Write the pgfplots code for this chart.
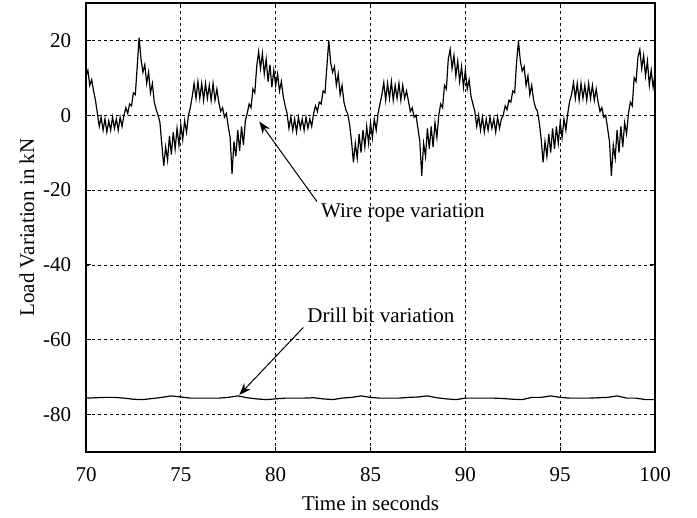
\documentclass[border=0pt]{standalone}
\usepackage{fontspec}
\setmainfont{Liberation Serif}
\usepackage{pgfplots}
\pgfplotsset{compat=1.18}
\usetikzlibrary{arrows.meta}

% wire rope load variation (kN)
\pgfplotstableread{
t y
70.0 10.5
70.1 12
70.2 8
70.3 9.5
70.4 6.5
70.5 4
70.6 0.5
70.7 -3
70.8 -0.5
70.9 -4
71.0 -1
71.1 -4.5
71.2 -1.5
71.3 -4
71.4 -0.5
71.5 -3.5
71.6 -1
71.7 -4
71.8 -0.5
71.9 -3
72.0 0
72.1 2
72.2 0.5
72.3 3
72.4 2.5
72.5 6
72.6 5.5
72.7 13
72.8 20.7
72.9 15
73.0 11.5
73.1 13.5
73.2 8.5
73.3 11.5
73.4 6
73.5 8.5
73.6 3.5
73.7 1.5
73.8 0
73.9 -2
74.0 -8
74.1 -13.5
74.2 -8.5
74.3 -12
74.4 -5.5
74.5 -10.5
74.6 -4.5
74.7 -9
74.8 -3.5
74.9 -8
75.0 -2.5
75.1 -6.5
75.2 -1.5
75.3 -4.5
75.4 0
75.5 2
75.6 5
75.7 8.5
75.8 4.5
75.9 9
76.0 4.5
76.1 8.5
76.2 4
76.3 8.5
76.4 4.5
76.5 8
76.6 4
76.7 8.5
76.8 4
76.9 7
77.0 3.5
77.1 1
77.2 2
77.3 -0.5
77.4 0.5
77.5 -3
77.6 -6
77.7 -15.7
77.8 -7
77.9 -11
78.0 -4
78.1 -9.5
78.2 -3
78.3 -8
78.4 -1.5
78.5 0.5
78.6 3
78.7 2
78.8 7
78.9 6
79.0 13
79.1 17
79.2 12.5
79.3 16.5
79.4 11
79.5 15
79.6 9
79.7 13.5
79.8 7.5
79.9 12
80.0 8
80.1 11
80.2 6.5
80.3 9
80.4 5
80.5 2.5
80.6 0.5
80.7 -3.5
80.8 -0.5
80.9 -4
81.0 -1
81.1 -4.5
81.2 -0.5
81.3 -3.5
81.4 -1
81.5 -4
81.6 -0.5
81.7 -3.5
81.8 -1
81.9 -3
82.0 0.5
82.1 2.5
82.2 1
82.3 3.5
82.4 3
82.5 6.5
82.6 6
82.7 13
82.8 20
82.9 14
83.0 11.5
83.1 13
83.2 8
83.3 11
83.4 5.5
83.5 8
83.6 3.5
83.7 1.5
83.8 0.3
83.9 -2.5
84.0 -7
84.1 -12.6
84.2 -7.5
84.3 -11.5
84.4 -5
84.5 -10
84.6 -4
84.7 -8.5
84.8 -3
84.9 -7.5
85.0 -2
85.1 -6
85.2 -1
85.3 -4
85.4 0.5
85.5 3
85.6 5.5
85.7 8.7
85.8 4
85.9 8.5
86.0 4.5
86.1 9
86.2 4
86.3 8
86.4 4.5
86.5 8.5
86.6 4
86.7 8
86.8 4.5
86.9 6.5
87.0 3.8
87.1 1
87.2 2
87.3 -0.5
87.4 0
87.5 -3.5
87.6 -7
87.7 -16.2
87.8 -7.5
87.9 -11
88.0 -3.5
88.1 -9
88.2 -3
88.3 -8.5
88.4 -2
88.5 -6
88.6 0
88.7 3
88.8 2
88.9 8
89.0 7
89.1 15
89.2 17.6
89.3 12.5
89.4 16
89.5 10.5
89.6 14.5
89.7 9
89.8 13
89.9 7.5
90.0 12
90.1 7
90.2 9.5
90.3 5
90.4 3
90.5 1
90.6 -3
90.7 0
90.8 -4
90.9 -0.5
91.0 -4.5
91.1 -1
91.2 -4
91.3 -0.5
91.4 -3.5
91.5 -1
91.6 -4.5
91.7 -0.5
91.8 -3.5
91.9 -1
92.0 0
92.1 2.5
92.2 1.5
92.3 4
92.4 3.5
92.5 6.5
92.6 6
92.7 14
92.8 19.8
92.9 14.5
93.0 11.8
93.1 13
93.2 8
93.3 10.5
93.4 5.5
93.5 8
93.6 4
93.7 2
93.8 1.1
93.9 -2
94.0 -6.5
94.1 -12.6
94.2 -7
94.3 -11
94.4 -5
94.5 -10
94.6 -3.5
94.7 -9
94.8 -3
94.9 -7.5
95.0 -2
95.1 -6
95.2 -1
95.3 -4
95.4 0.5
95.5 3.8
95.6 5.5
95.7 8.7
95.8 4.5
95.9 8.5
96.0 4
96.1 8.5
96.2 4.5
96.3 8
96.4 4
96.5 8.5
96.6 4.5
96.7 8
96.8 4
96.9 7
97.0 3.5
97.1 1
97.2 2
97.3 -0.5
97.4 0
97.5 -3.5
97.6 -7
97.7 -16.2
97.8 -8
97.9 -11.5
98.0 -4
98.1 -10
98.2 -3
98.3 -8.5
98.4 -2
98.5 -5
98.6 0.5
98.7 3.5
98.8 2.5
98.9 10
99.0 9
99.1 15.5
99.2 17.6
99.3 12.5
99.4 16
99.5 10.5
99.6 14.5
99.7 8
99.8 12
99.9 7.5
100.0 11
}\wirerope

% drill bit load variation (kN)
\pgfplotstableread{
t y
70.0 -75.6
70.5 -75.5
71.0 -75.4
71.5 -75.4
72.0 -75.6
72.5 -75.9
73.0 -76.0
73.5 -75.7
74.0 -75.4
74.5 -75.0
75.0 -75.3
75.5 -75.6
76.0 -75.6
76.5 -75.6
77.0 -75.6
77.5 -75.4
78.0 -75.0
78.5 -75.5
79.0 -75.8
79.5 -76.0
80.0 -75.8
80.5 -75.6
81.0 -75.6
81.5 -75.6
82.0 -75.5
82.5 -75.8
83.0 -76.0
83.5 -75.6
84.0 -75.4
84.5 -75.0
85.0 -75.4
85.5 -75.6
86.0 -75.6
86.5 -75.6
87.0 -75.4
87.5 -75.3
88.0 -75.0
88.5 -75.5
89.0 -75.8
89.5 -76.0
90.0 -75.6
90.5 -75.6
91.0 -75.6
91.5 -75.6
92.0 -75.7
92.5 -75.9
93.0 -76.0
93.5 -75.4
94.0 -75.4
94.5 -75.0
95.0 -75.4
95.5 -75.6
96.0 -75.6
96.5 -75.6
97.0 -75.5
97.5 -75.4
98.0 -75.0
98.5 -75.6
99.0 -75.6
99.5 -76.0
100.0 -76.0
}\drillbit

\begin{document}
\begin{tikzpicture}[font=\fontsize{10.5}{12}\selectfont]
\begin{axis}[
    scale only axis,
    width=284.5pt, height=224.5pt,
    xmin=70, xmax=100,
    ymin=-90, ymax=30,
    xtick={70,75,...,100},
    ytick={-80,-60,...,20},
    grid=major,
    grid style={black, line width=0.4pt, dash pattern=on 1.5pt off 1.5pt},
    axis line style={line width=0.8pt},
    tick align=inside,
    major tick length=2.5pt,
    tick style={black, line width=0.5pt},
    /pgf/number format/assume math mode=true,
    ticklabel style={font=\fontsize{10.5}{12}\selectfont},
    xticklabel style={anchor=north, inner sep=0pt, yshift=-7.5pt},
    yticklabel style={anchor=east, inner sep=0pt, xshift=-7.2pt},
    xlabel={Time in seconds},
    ylabel={Load Variation in kN},
    xlabel style={at={(axis description cs:0.5,-0.115)}, anchor=center},
    ylabel style={at={(axis description cs:-0.1037,0.5)}, anchor=center},
]
\addplot[black, line width=0.6pt] table[x=t, y=y] {\wirerope};
\addplot[black, line width=0.6pt] table[x=t, y=y] {\drillbit};

\draw[-{Stealth[length=6pt, width=4.5pt]}, line width=0.5pt]
    (axis cs:82.18,-23.1) -- (axis cs:79.14,-1.7);
\node at (axis cs:86.71,-26.1) {Wire rope variation};
\draw[-{Stealth[length=6pt, width=4.5pt]}, line width=0.5pt]
    (axis cs:81.46,-56.7) -- (axis cs:78.08,-74.75);
\node at (axis cs:85.55,-53.4) {Drill bit variation};
\end{axis}
\path ([xshift=-43pt, yshift=-32.5pt]current axis.south west)
    rectangle ([xshift=21pt, yshift=1.5pt]current axis.north east);
\end{tikzpicture}
\end{document}
